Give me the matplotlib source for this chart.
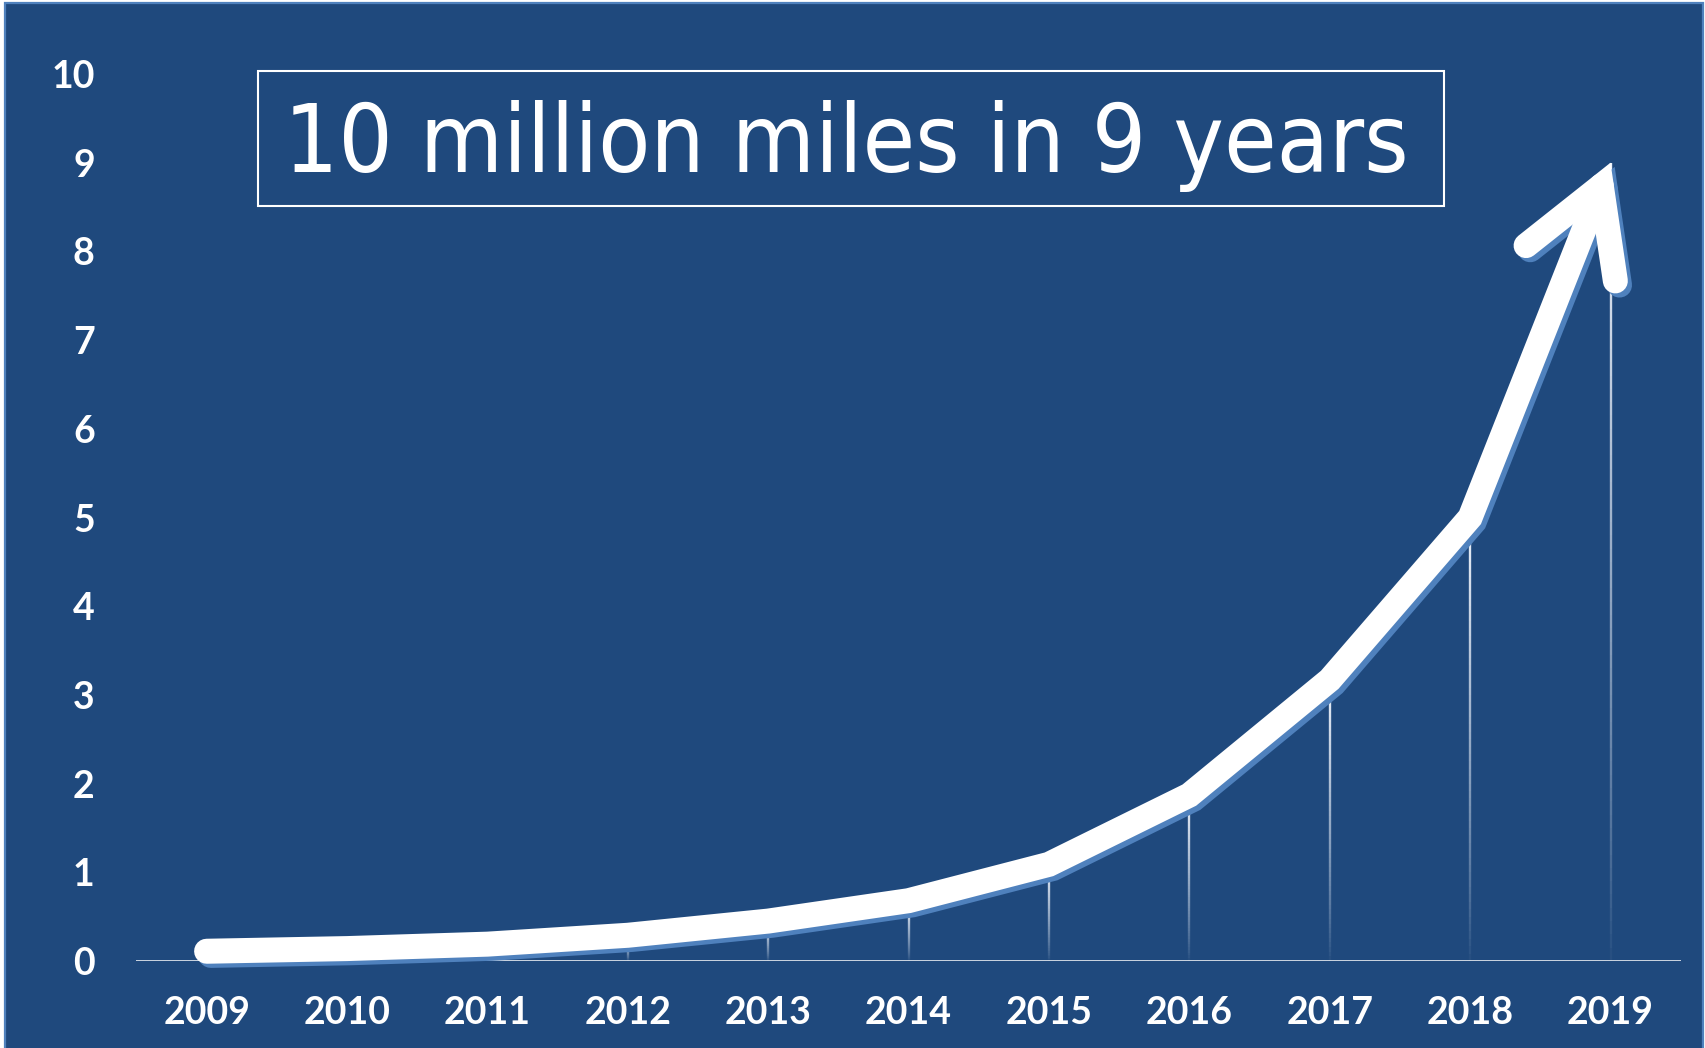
import numpy as np
import matplotlib
matplotlib.use("Agg")
import matplotlib.pyplot as plt
from matplotlib.patches import Rectangle
from matplotlib.collections import LineCollection
import matplotlib.transforms as mtransforms

# ---------------- data ----------------
years = ["2009", "2010", "2011", "2012", "2013", "2014",
         "2015", "2016", "2017", "2018", "2019"]
miles = [0.11, 0.14, 0.19, 0.29, 0.45, 0.68, 1.09, 1.87, 3.17, 5.0, 9.0]
yticks = list(range(0, 11))
title = "10 million miles in 9 years"

# ---------------- style ----------------
BG = "#1F497D"
ACCENT = "#4F81BD"
W, H = 1705, 1048
plt.rcParams["font.family"] = ["Lato", "DejaVu Sans"]

fig = plt.figure(figsize=(W / 100, H / 100), dpi=100, facecolor="white")

# dark blue panel with light border
fig.patches.append(Rectangle((5 / W, -10 / H), 1698 / W, (H - 3 + 10) / H,
                             transform=fig.transFigure, facecolor=BG,
                             edgecolor=ACCENT, lw=1.6, zorder=-1))

ax = fig.add_axes([136.4 / W, 87 / H, 1544.3 / W, 887 / H])
ax.set_facecolor("none")
for s in ax.spines.values():
    s.set_visible(False)
ax.set_xlim(-0.5, len(years) - 0.5)
ax.set_ylim(0, 10)

x = np.arange(len(years))

# drop lines with fading gradient
segs, cols = [], []
N = 60
for xi, yi in zip(x, miles):
    ys = np.linspace(yi, 0, N + 1)
    for k in range(N):
        segs.append([(xi, ys[k]), (xi, ys[k + 1])])
        a = 1.0 * (1 - k / N) ** 0.8
        cols.append((0.93, 0.95, 0.98, a))
ax.add_collection(LineCollection(segs, colors=cols, linewidths=1.7, zorder=2))

# baseline
ax.axhline(0, color="white", lw=1.8, zorder=2.5)

# thick arrow line
lw_pt = 18
lw_px = lw_pt * fig.dpi / 72
pts = ax.transData.transform(np.column_stack([x, miles]))
T = pts[-1]
P = pts[-2]
u = (T - P) / np.linalg.norm(T - P)
half = np.deg2rad(30)
C = T - u * (lw_px / 2) / np.sin(half)
back = -u


def rot(v, a):
    c, s = np.cos(a), np.sin(a)
    return np.array([c * v[0] - s * v[1], s * v[0] + c * v[1]])


L = 96
BL = C + L * rot(back, -half)
BR = C + L * rot(back, half)
inv = ax.transData.inverted()
shaft = inv.transform(np.vstack([pts[:-1], C]))
head = inv.transform(np.vstack([BL, C, BR]))

shadow_tr = ax.transData + mtransforms.ScaledTranslation(3 / 72, -3 / 72, fig.dpi_scale_trans)
for path in (shaft, head):
    ax.plot(path[:, 0], path[:, 1], color=ACCENT, lw=lw_pt, solid_capstyle="round",
            solid_joinstyle="miter", transform=shadow_tr, zorder=3, clip_on=False)
for path in (shaft, head):
    ax.plot(path[:, 0], path[:, 1], color="white", lw=lw_pt, solid_capstyle="round",
            solid_joinstyle="miter", zorder=4, clip_on=False)

# ticks
ax.set_xticks(x)
ax.set_xticklabels(years)
ax.set_yticks(yticks)
ax.set_yticklabels([str(v) for v in yticks])
ax.tick_params(axis="both", length=0, colors="white", labelsize=27)
ax.tick_params(axis="x", pad=25)
ax.tick_params(axis="y", pad=30)
for lab in ax.get_xticklabels() + ax.get_yticklabels():
    lab.set_fontweight("bold")

# title box
fig.patches.append(Rectangle((257.7 / W, (H - 206) / H), (1443.6 - 257.7) / W, (206 - 70.7) / H,
                             transform=fig.transFigure, fill=False, edgecolor="white",
                             lw=1.5, zorder=5))
t = fig.text(846.5 / W, (H - 171.7) / H, title, ha="center", va="baseline",
             color="white", fontsize=70, family=["DejaVu Sans"], fontstretch="condensed",
             zorder=6)
r = fig.canvas.get_renderer()
w = t.get_window_extent(r).width
t.set_fontsize(70 * 1125 / w)

fig.savefig("out.png", dpi=100, facecolor=fig.get_facecolor())
